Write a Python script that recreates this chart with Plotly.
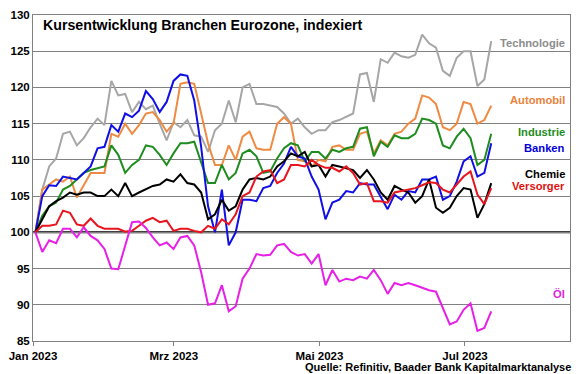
import pandas as pd
import plotly.graph_objects as go

# ---- data (index, 2 Jan 2023 = 100) ----
start_date = "2023-01-02"
end_date = "2023-07-12"
n_points = 67

technologie = [100.0, 105.9, 109.1, 110.2, 113.6, 113.9, 112.0, 113.0, 114.5, 115.7, 114.8, 120.9, 118.9, 119.1, 116.6, 118.0, 117.0,
               117.5, 115.0, 112.7, 115.2, 114.5, 115.5, 113.4, 113.2, 111.1, 114.1, 115.0, 118.2, 115.2, 120.0, 120.5, 117.7, 117.7,
               117.5, 117.3, 116.4, 115.0, 115.7, 114.5, 113.6, 114.1, 114.1, 115.2, 115.5, 115.9, 116.4, 121.8, 122.0, 118.0, 123.9,
               123.4, 124.8, 124.3, 124.1, 124.5, 127.3, 126.1, 125.5, 122.3, 121.6, 124.1, 125.0, 125.0, 120.2, 121.1, 126.4]
banken = [100.0, 105.0, 106.5, 106.4, 107.7, 107.5, 107.3, 108.2, 109.1, 111.6, 111.8, 114.8, 113.9, 116.4, 115.9, 116.8, 119.5,
          118.4, 116.6, 118.0, 120.9, 121.8, 121.6, 118.2, 111.8, 103.6, 100.0, 105.9, 98.2, 100.0, 104.5, 104.5, 104.3, 106.1,
          106.4, 108.2, 109.5, 111.8, 110.5, 110.2, 107.7, 105.9, 101.8, 104.1, 104.5, 105.7, 105.5, 106.8, 106.6, 106.6, 105.0,
          103.2, 105.2, 104.5, 105.7, 105.5, 107.3, 107.3, 107.7, 104.5, 105.0, 107.0, 109.8, 110.5, 107.7, 108.2, 112.3]
automobil = [100.0, 105.9, 106.6, 107.3, 107.0, 107.7, 104.8, 106.4, 108.2, 108.2, 108.2, 113.6, 113.2, 115.0, 113.6, 114.8, 116.4,
             116.6, 115.5, 113.9, 115.0, 120.5, 120.7, 120.5, 116.4, 112.3, 109.3, 109.3, 112.0, 110.0, 113.2, 113.9, 111.6, 111.4,
             111.4, 115.0, 115.9, 115.0, 110.0, 109.8, 109.1, 110.0, 109.8, 111.8, 112.0, 111.4, 111.4, 113.6, 113.9, 110.9, 112.7,
             112.0, 113.6, 113.9, 115.0, 115.7, 118.9, 118.6, 117.7, 114.5, 114.1, 115.0, 118.0, 117.7, 115.0, 115.5, 117.5]
industrie = [100.0, 102.3, 103.6, 104.1, 105.9, 106.4, 107.3, 108.2, 108.6, 108.9, 109.1, 112.0, 110.7, 108.2, 109.3, 110.0, 112.0,
             111.8, 110.7, 109.3, 110.9, 112.3, 112.3, 112.5, 109.5, 106.8, 106.8, 109.3, 107.3, 108.2, 110.9, 111.4, 110.5, 108.2,
             108.4, 110.2, 111.6, 112.3, 112.0, 109.8, 111.1, 111.1, 110.2, 111.4, 111.1, 111.6, 111.8, 114.3, 114.5, 110.5, 112.5,
             111.8, 113.4, 113.0, 113.0, 113.6, 115.7, 115.5, 115.0, 112.0, 111.6, 113.2, 114.3, 113.0, 109.3, 110.0, 113.6]
chemie = [100.0, 101.8, 103.6, 104.3, 104.8, 105.5, 105.2, 105.5, 105.5, 105.0, 105.0, 105.9, 105.0, 106.8, 105.0, 105.5, 105.9,
          106.4, 106.6, 107.3, 107.0, 108.0, 106.8, 106.6, 105.5, 101.8, 102.5, 104.5, 103.0, 103.6, 105.9, 107.3, 107.5, 107.3,
          107.7, 109.1, 109.8, 110.9, 110.5, 111.1, 109.1, 109.3, 107.7, 109.3, 109.1, 108.9, 108.6, 107.5, 108.6, 107.3, 105.5,
          104.5, 106.4, 105.9, 105.5, 104.1, 105.0, 107.3, 103.4, 102.7, 103.4, 105.0, 106.1, 105.9, 102.0, 103.9, 106.8]
versorger = [100.0, 100.9, 100.9, 101.1, 103.0, 102.7, 101.1, 100.9, 101.9, 100.9, 100.5, 100.5, 100.5, 100.1, 100.2, 100.9, 101.6,
             102.0, 101.4, 101.6, 100.2, 100.5, 100.5, 100.2, 100.0, 100.9, 100.5, 101.8, 101.1, 102.5, 105.0, 105.5, 107.7, 108.4,
             108.6, 106.8, 107.3, 109.3, 109.3, 109.1, 110.0, 109.3, 108.9, 108.9, 108.4, 109.1, 108.2, 106.6, 106.8, 104.3, 104.3,
             104.1, 105.5, 105.7, 105.9, 106.1, 106.5, 106.9, 106.8, 105.9, 105.5, 106.6, 107.7, 108.4, 105.2, 103.9, 106.1]
oel = [100.0, 97.3, 98.9, 98.5, 100.5, 100.5, 99.3, 100.7, 99.5, 98.9, 97.7, 95.0, 94.9, 98.2, 101.4, 101.5, 100.6,
       99.3, 98.2, 98.6, 97.7, 99.3, 99.5, 98.2, 94.5, 90.0, 90.2, 92.7, 89.1, 89.8, 93.6, 95.0, 97.0, 96.8,
       96.9, 98.2, 98.4, 97.3, 96.8, 97.0, 95.7, 97.0, 92.7, 94.8, 93.2, 93.6, 93.4, 93.9, 93.6, 94.8, 93.4,
       91.5, 93.0, 92.7, 93.0, 92.7, 92.3, 92.0, 91.8, 89.5, 87.3, 87.7, 89.3, 90.2, 86.4, 86.8, 89.1]

series_names = ["Technologie", "Automobil", "Industrie", "Banken", "Chemie", "Versorger", "Öl"]
series_values = [technologie, automobil, industrie, banken, chemie, versorger, oel]
line_colors = ["#A6A6A6", "#EE8A42", "#1E8C1E", "#1010E6", "#000000", "#E8141E", "#E620E6"]
label_colors = ["#8C8C8C", "#E8823C", "#1E8C1E", "#0000DC", "#000000", "#E01010", "#E020E0"]
label_y = [126.1, 118.3, 113.9, 111.6, 108.0, 106.4, 91.5]

tick_vals = ["2023-01-01", "2023-03-01", "2023-05-01", "2023-07-01"]
tick_text = ["Jan 2023", "Mrz 2023", "Mai 2023", "Jul 2023"]
y_ticks = [85, 90, 95, 100, 105, 110, 115, 120, 125, 130]

title_text = "Kursentwicklung Branchen Eurozone, indexiert"
source_text = "Quelle: Refinitiv, Baader Bank Kapitalmarktanalyse"

dates = pd.date_range(start_date, end_date, periods=n_points)

FONT = "Liberation Sans, Arial, sans-serif"

fig = go.Figure()
for name, vals, col in zip(series_names, series_values, line_colors):
    fig.add_trace(go.Scatter(x=dates, y=vals, mode="lines", name=name,
                             line=dict(color=col, width=2), showlegend=False))

# black base line at 100
fig.add_shape(type="line", xref="paper", yref="y", x0=0, x1=1, y0=100, y1=100,
              line=dict(color="black", width=2), layer="below")

for name, yv, col in zip(series_names, label_y, label_colors):
    fig.add_annotation(text="<b>%s</b>" % name, xref="paper", yref="y", x=0.9935, y=yv,
                       xanchor="right", yanchor="middle", showarrow=False,
                       font=dict(family=FONT, size=11.2, color=col))

fig.add_annotation(text="<b>%s</b>" % title_text, xref="paper", yref="paper",
                   x=0.014, y=0.969, xanchor="left", yanchor="middle", showarrow=False,
                   font=dict(family=FONT, size=14.2, color="black"))
fig.add_annotation(text="<b>%s</b>" % source_text, xref="paper", yref="paper",
                   x=1.005, y=-0.079, xanchor="right", yanchor="middle", showarrow=False,
                   font=dict(family=FONT, size=11, color="black"))

fig.update_layout(
    width=580, height=374,
    margin=dict(l=33, r=9, t=10, b=33),
    paper_bgcolor="white", plot_bgcolor="white",
    font=dict(family=FONT, size=11.5, color="black"),
    xaxis=dict(range=["2023-01-01", "2023-08-14"], tickmode="array",
               tickvals=tick_vals, ticktext=["<b>%s</b>" % t for t in tick_text],
               showgrid=False, showline=True, linecolor="#808080", linewidth=1,
               mirror=True, ticks="outside", ticklen=4, tickcolor="#808080",
               zeroline=False),
    yaxis=dict(range=[85, 130], tickmode="array", tickvals=y_ticks,
               ticktext=["<b>%d</b>" % v for v in y_ticks],
               showgrid=True, gridcolor="#808080", gridwidth=1,
               showline=True, linecolor="#808080", linewidth=1, mirror=True,
               ticks="", zeroline=False),
)

fig.write_html("out.html", config={"displayModeBar": False},
               post_script="document.body.style.margin='0';")
